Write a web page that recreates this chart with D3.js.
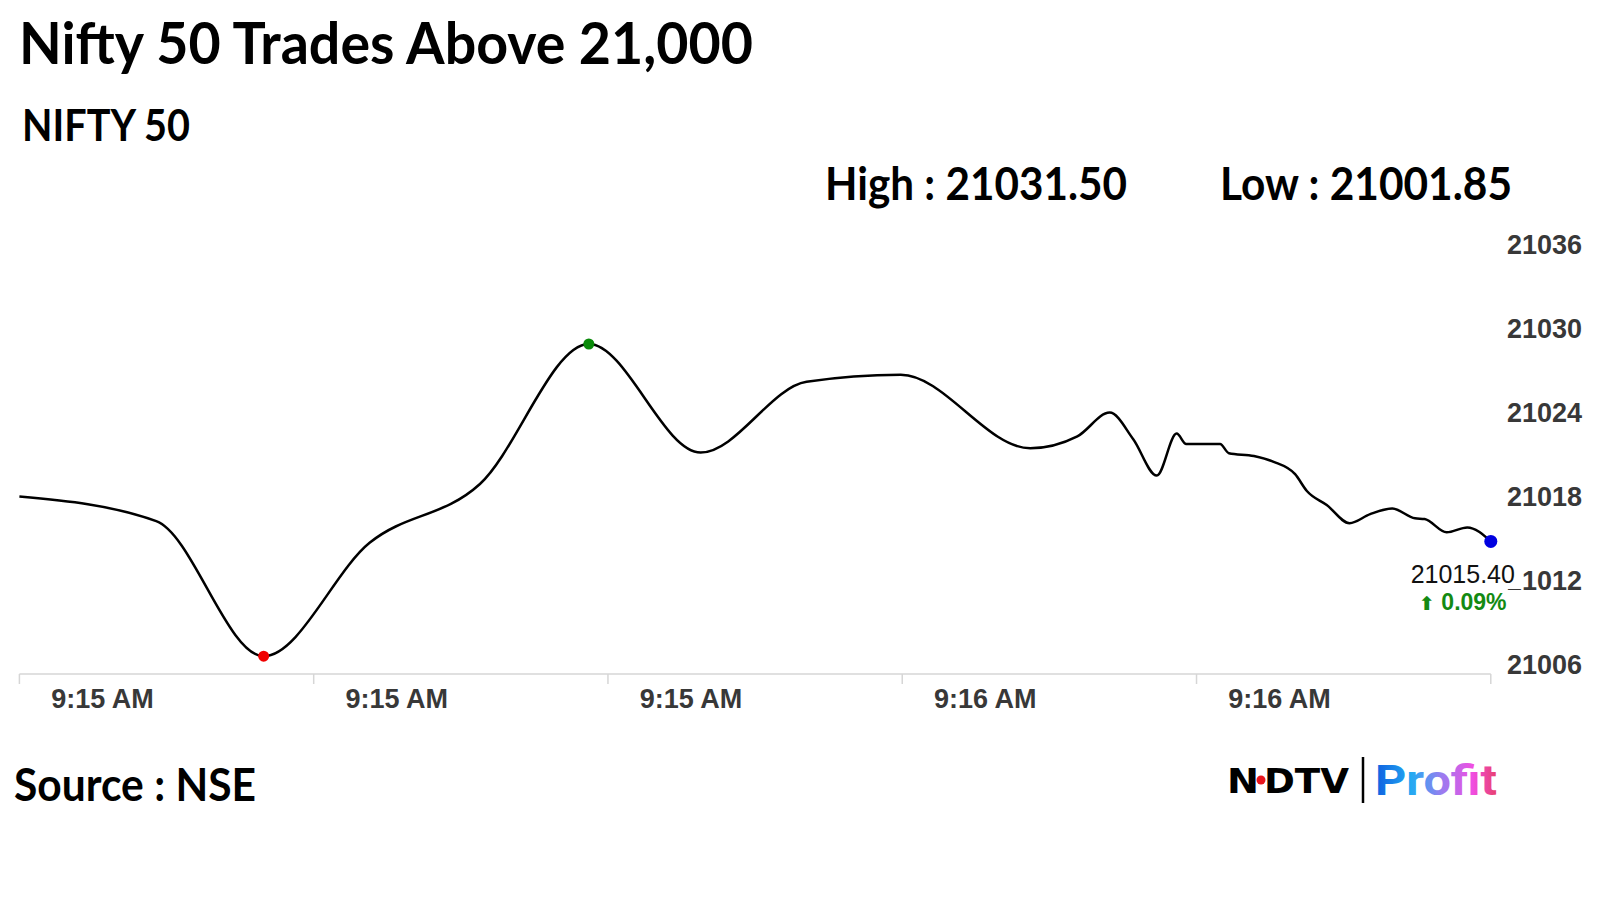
<!DOCTYPE html>
<html>
<head>
<meta charset="utf-8">
<script src="https://cdn.jsdelivr.net/npm/d3@7"></script>
<style>
  html, body { margin: 0; padding: 0; background: #fff; }
  svg { display: block; }
</style>
</head>
<body>
<div id="chart"></div>
<script>
const width = 1600, height = 900;

// seconds after 9:15:00 and the index level at that moment
const seconds = [0, 9.3, 16.6, 23.8, 31.3, 38.7, 46.3, 53.5, 59.9, 68.7, 71.9, 74.1, 75.7, 77.3, 78.65, 79.3,
  81.6, 82.2, 83.9, 85.2, 86.7, 87.5, 88.85, 90.4, 91.8, 93.3, 94.85, 95.5, 97.0, 98.4, 100];
const prices = [21018.6, 21016.85, 21007.2, 21015.3, 21019.5, 21029.5, 21021.75, 21026.8, 21027.3, 21022.05,
  21022.9, 21024.6, 21022.7, 21020.1, 21023.1, 21022.35, 21022.35, 21021.7, 21021.5, 21021.1, 21020.2,
  21019.0, 21018.0, 21016.7, 21017.35, 21017.75, 21017.05, 21017.0, 21016.05, 21016.4, 21015.4];
const yTicks = [21006, 21012, 21018, 21024, 21030, 21036];
const dayHigh = "21031.50";
const dayLow = "21001.85";
const changePct = "0.09%";

const base = new Date(2023, 11, 8, 9, 15, 0);
const data = seconds.map((s, i) => ({ t: new Date(base.getTime() + s * 1000), v: prices[i] }));

const svg = d3.select("#chart").append("svg")
  .attr("width", width)
  .attr("height", height);

// headers (Calibri look-alike, squeezed to the reference widths)
function header(txt, x, y, size, len) {
  svg.append("text")
    .attr("x", x).attr("y", y)
    .attr("textLength", len)
    .attr("lengthAdjust", "spacingAndGlyphs")
    .style("font-family", "Lato, 'Open Sans', sans-serif")
    .style("font-weight", "bold")
    .style("font-size", size + "px")
    .style("fill", "#000")
    .text(txt);
}
header("Nifty 50 Trades Above 21,000", 19, 64, 57, 734);
header("NIFTY 50", 22, 141, 44, 168);
header("High : " + dayHigh, 825, 200, 45, 302);
header("Low : " + dayLow, 1220, 200, 45, 292);
header("Source : NSE", 14, 801, 45, 242);

// scales
const x = d3.scaleTime()
  .domain([base, new Date(base.getTime() + 100 * 1000)])
  .range([19.4, 1490.8]);
const y = d3.scaleLinear()
  .domain([21006, 21036])
  .range([673, 253]);

const axisY = 674;
const timeTicks = x.ticks(d3.timeSecond.every(20));
const fmt = d3.timeFormat("%-I:%M %p");

// x axis line + ticks
svg.append("line")
  .attr("x1", x.range()[0]).attr("x2", x.range()[1])
  .attr("y1", axisY).attr("y2", axisY)
  .attr("stroke", "#d6d6d6").attr("stroke-width", 1.5);
svg.selectAll("line.xtick")
  .data(timeTicks)
  .enter().append("line")
  .attr("class", "xtick")
  .attr("x1", d => x(d)).attr("x2", d => x(d))
  .attr("y1", axisY).attr("y2", axisY + 10)
  .attr("stroke", "#d6d6d6").attr("stroke-width", 1.5);
svg.selectAll("text.xlabel")
  .data(timeTicks.slice(0, -1))
  .enter().append("text")
  .attr("class", "xlabel")
  .attr("x", d => x(d) + 83)
  .attr("y", 708)
  .attr("text-anchor", "middle")
  .style("font-family", "Arial, 'Liberation Sans', sans-serif")
  .style("font-weight", "bold")
  .style("font-size", "27px")
  .style("fill", "#383838")
  .text(d => fmt(d));

// y labels on the right
svg.selectAll("text.ylabel")
  .data(yTicks)
  .enter().append("text")
  .attr("class", "ylabel")
  .attr("x", 1582)
  .attr("y", d => y(d) - 8)
  .attr("dy", "0.35em")
  .attr("text-anchor", "end")
  .style("font-family", "Arial, 'Liberation Sans', sans-serif")
  .style("font-weight", "bold")
  .style("font-size", "27px")
  .style("fill", "#383838")
  .text(d => d);

// price line
const line = d3.line()
  .x(d => x(d.t))
  .y(d => y(d.v))
  .curve(d3.curveMonotoneX);
svg.append("path")
  .datum(data)
  .attr("fill", "none")
  .attr("stroke", "#000")
  .attr("stroke-width", 2.5)
  .attr("stroke-linejoin", "round")
  .attr("d", line);

// last value box
const last = data[data.length - 1];
svg.append("rect")
  .attr("x", 1404).attr("y", 553)
  .attr("width", 118).attr("height", 36)
  .attr("fill", "#fff");
svg.append("text")
  .attr("x", x(last.t) - 28)
  .attr("y", 583)
  .attr("text-anchor", "middle")
  .style("font-family", "Arial, 'Liberation Sans', sans-serif")
  .style("font-size", "25px")
  .style("fill", "#111")
  .text(last.v.toFixed(2));
const chg = svg.append("text")
  .attr("x", x(last.t) - 28)
  .attr("y", 610)
  .attr("text-anchor", "middle")
  .style("font-family", "Arial, 'Liberation Sans', sans-serif")
  .style("font-weight", "bold")
  .style("font-size", "23px")
  .style("fill", "#138a13");
chg.append("tspan")
  .style("font-family", "'DejaVu Sans', sans-serif")
  .style("font-size", "19px")
  .text("\u2B06");
chg.append("tspan").text(" " + changePct);

// markers: low, high, last
const lo = data[d3.minIndex(data, d => d.v)];
const hi = data[d3.maxIndex(data, d => d.v)];
[[lo, "#f00000", 5.5], [hi, "#0a8a0a", 5.5], [last, "#0000e0", 6.5]].forEach(([d, c, r]) => {
  svg.append("circle")
    .attr("cx", x(d.t)).attr("cy", y(d.v))
    .attr("r", r)
    .attr("fill", c);
});

// logo
const grad = svg.append("defs").append("linearGradient")
  .attr("id", "profitGrad")
  .attr("gradientUnits", "userSpaceOnUse")
  .attr("x1", 1375).attr("x2", 1497).attr("y1", 0).attr("y2", 0);
[["0%", "#0f5fe0"], ["30%", "#23aaf2"], ["55%", "#9a7cf0"], ["80%", "#f04ee2"], ["100%", "#e8406a"]]
  .forEach(([o, c]) => grad.append("stop").attr("offset", o).attr("stop-color", c));

svg.append("text")
  .attr("x", 1227).attr("y", 793)
  .attr("textLength", 32).attr("lengthAdjust", "spacingAndGlyphs")
  .style("font-family", "'DejaVu Sans', sans-serif")
  .style("font-weight", "bold")
  .style("font-size", "33px")
  .text("N");
svg.append("circle")
  .attr("cx", 1261).attr("cy", 780).attr("r", 4.5)
  .attr("fill", "#e8141c");
svg.append("text")
  .attr("x", 1264).attr("y", 793)
  .attr("textLength", 85).attr("lengthAdjust", "spacingAndGlyphs")
  .style("font-family", "'DejaVu Sans', sans-serif")
  .style("font-weight", "bold")
  .style("font-size", "33px")
  .text("DTV");
svg.append("line")
  .attr("x1", 1363).attr("x2", 1363)
  .attr("y1", 757).attr("y2", 803)
  .attr("stroke", "#000").attr("stroke-width", 2.5);
svg.append("text")
  .attr("x", 1375).attr("y", 795)
  .attr("textLength", 122).attr("lengthAdjust", "spacingAndGlyphs")
  .style("font-family", "Roboto, sans-serif")
  .style("font-weight", "bold")
  .style("font-size", "42px")
  .style("fill", "url(#profitGrad)")
  .text("Profit");
</script>
</body>
</html>
